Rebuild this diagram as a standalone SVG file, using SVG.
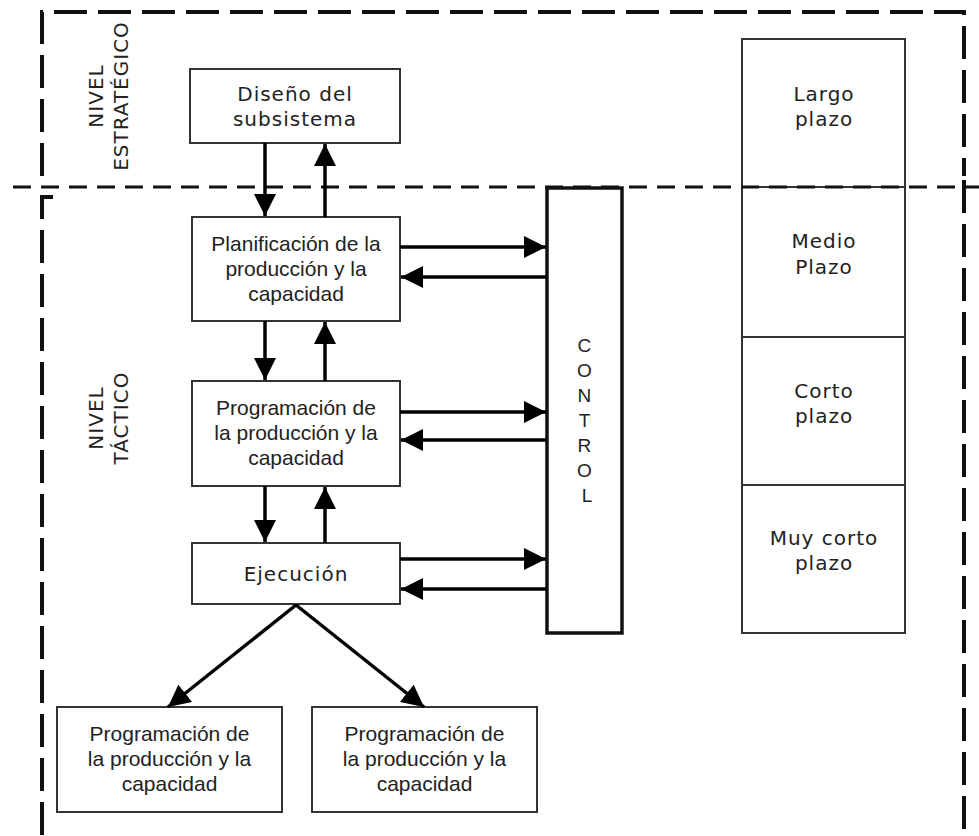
<svg xmlns="http://www.w3.org/2000/svg" width="979" height="836" viewBox="0 0 979 836">
  <style>
    .bg { fill: #ffffff; }
    .box { fill: #ffffff; stroke: #333333; stroke-width: 2; }
    .ctl { fill: #ffffff; stroke: #111111; stroke-width: 3.5; }
    .frame { fill: none; stroke: #111111; stroke-width: 4; stroke-dasharray: 33 11; }
    .split { fill: none; stroke: #111111; stroke-width: 3; stroke-dasharray: 18 10; }
    .wide { font-family: "DejaVu Sans", Verdana, sans-serif; font-size: 20px; letter-spacing: 1px; fill: #222222; text-anchor: middle; }
    .narrow { font-family: "Liberation Sans", Arial, sans-serif; font-size: 21px; fill: #222222; text-anchor: middle; }
    .ctltext { font-family: "Liberation Sans", Arial, sans-serif; font-size: 19px; fill: #222222; text-anchor: middle; }
    .arrow { fill: none; stroke: #000000; stroke-width: 3.5; marker-end: url(#head); }
  </style>
  <defs>
    <marker id="head" viewBox="0 0 22 22" refX="22" refY="11" markerWidth="22" markerHeight="22" markerUnits="userSpaceOnUse" orient="auto">
      <path d="M0,0 L22,11 L0,22 Z" fill="#000000"/>
    </marker>
  </defs>

  <rect class="bg" x="0" y="0" width="979" height="836"/>

  <!-- Level frames -->
  <g id="frames">
    <path class="frame" d="M42,176 L42,12 L964,12 L964,176"/>
    <path class="frame" d="M53,197 L42,197 L42,836"/>
    <path class="frame" d="M964,180 L964,836"/>
  </g>

  <!-- Time horizon column -->
  <g id="horizons">
    <rect class="box" x="742" y="39" width="163" height="594"/>
    <line x1="742" y1="187" x2="905" y2="187" stroke="#333333" stroke-width="2"/>
    <line x1="742" y1="337" x2="905" y2="337" stroke="#333333" stroke-width="2"/>
    <line x1="742" y1="485" x2="905" y2="485" stroke="#333333" stroke-width="2"/>
    <text class="wide" x="824" y="101">Largo</text>
    <text class="wide" x="824" y="126">plazo</text>
    <text class="wide" x="824" y="248">Medio</text>
    <text class="wide" x="824" y="274">Plazo</text>
    <text class="wide" x="824" y="398">Corto</text>
    <text class="wide" x="824" y="423">plazo</text>
    <text class="wide" x="824" y="545">Muy corto</text>
    <text class="wide" x="824" y="570">plazo</text>
  </g>

  <!-- Boundary between strategic and tactical levels -->
  <path class="split" d="M13,187 L979,187"/>

  <!-- Level labels -->
  <g id="label-estrategico">
    <text class="wide" transform="translate(103,96) rotate(-90)">NIVEL</text>
    <text class="wide" transform="translate(128,96) rotate(-90)">ESTRATÉGICO</text>
  </g>
  <g id="label-tactico">
    <text class="wide" transform="translate(103,418) rotate(-90)">NIVEL</text>
    <text class="wide" transform="translate(128,418) rotate(-90)">TÁCTICO</text>
  </g>

  <!-- Nodes -->
  <g id="diseno">
    <rect class="box" x="190" y="69" width="210" height="74"/>
    <text class="wide" x="295" y="101">Diseño del</text>
    <text class="wide" x="295" y="126">subsistema</text>
  </g>

  <g id="planificacion">
    <rect class="box" x="192" y="217" width="208" height="104"/>
    <text class="narrow" x="296" y="251">Planificación de la</text>
    <text class="narrow" x="296" y="276">producción y la</text>
    <text class="narrow" x="296" y="301">capacidad</text>
  </g>

  <g id="programacion">
    <rect class="box" x="192" y="381" width="208" height="105"/>
    <text class="narrow" x="296" y="415">Programación de</text>
    <text class="narrow" x="296" y="440">la producción y la</text>
    <text class="narrow" x="296" y="465">capacidad</text>
  </g>

  <g id="ejecucion">
    <rect class="box" x="192" y="543" width="208" height="61"/>
    <text class="wide" x="296" y="581">Ejecución</text>
  </g>

  <g id="programacion-a">
    <rect class="box" x="57" y="707" width="225" height="105"/>
    <text class="narrow" x="169.5" y="741">Programación de</text>
    <text class="narrow" x="169.5" y="766">la producción y la</text>
    <text class="narrow" x="169.5" y="791">capacidad</text>
  </g>

  <g id="programacion-b">
    <rect class="box" x="312" y="707" width="225" height="105"/>
    <text class="narrow" x="424.5" y="741">Programación de</text>
    <text class="narrow" x="424.5" y="766">la producción y la</text>
    <text class="narrow" x="424.5" y="791">capacidad</text>
  </g>

  <g id="control">
    <rect class="ctl" x="547" y="188" width="75" height="445"/>
    <text class="ctltext">
      <tspan x="587" y="352">C</tspan>
      <tspan x="587" y="377">O</tspan>
      <tspan x="587" y="402">N</tspan>
      <tspan x="587" y="427">T</tspan>
      <tspan x="587" y="452">R</tspan>
      <tspan x="587" y="477">O</tspan>
      <tspan x="587" y="502">L</tspan>
    </text>
  </g>

  <!-- Connectors -->
  <g id="connectors">
    <!-- vertical chain -->
    <path class="arrow" d="M265,143 L265,216"/>
    <path class="arrow" d="M325,217 L325,144"/>
    <path class="arrow" d="M265,321 L265,380"/>
    <path class="arrow" d="M325,381 L325,322"/>
    <path class="arrow" d="M265,486 L265,542"/>
    <path class="arrow" d="M325,543 L325,487"/>
    <!-- exchanges with control -->
    <path class="arrow" d="M400,247 L546,247"/>
    <path class="arrow" d="M547,277 L401,277"/>
    <path class="arrow" d="M400,412 L546,412"/>
    <path class="arrow" d="M547,440 L401,440"/>
    <path class="arrow" d="M400,559 L546,559"/>
    <path class="arrow" d="M547,589 L401,589"/>
    <!-- execution branches -->
    <path class="arrow" d="M296,605 L168,707"/>
    <path class="arrow" d="M296,605 L424,707"/>
  </g>
</svg>
